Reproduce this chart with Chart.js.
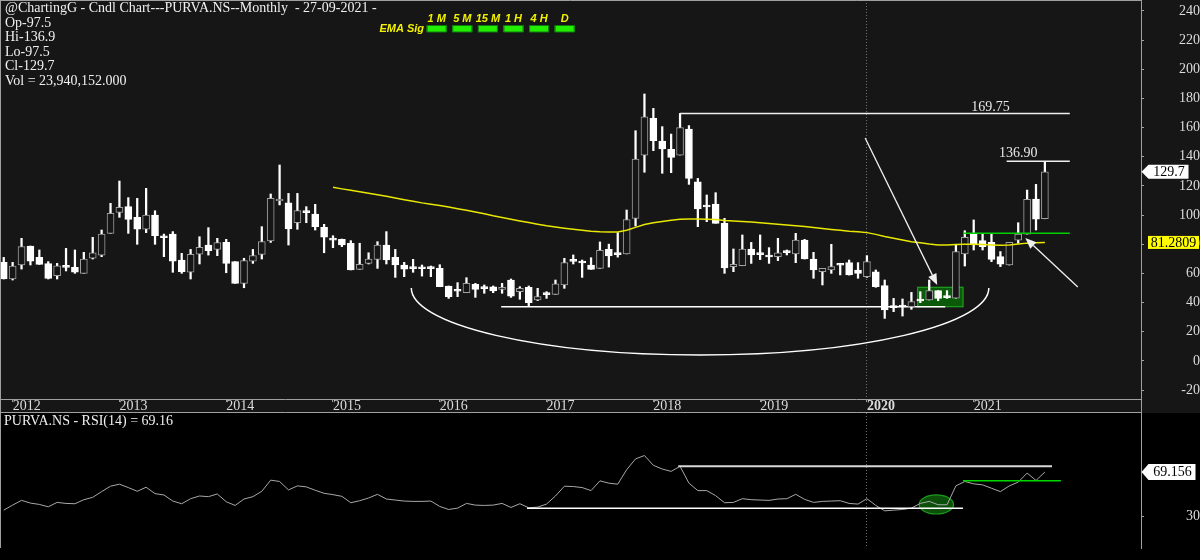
<!DOCTYPE html>
<html>
<head>
<meta charset="utf-8">
<title>PURVA.NS Monthly</title>
<script src="https://cdn.jsdelivr.net/npm/chart.js@4.4.0/dist/chart.umd.min.js"></script>
<style>
  html, body { margin: 0; padding: 0; background: #000; }
  canvas { display: block; }
</style>
</head>
<body>
<canvas id="priceChart" width="1200" height="413"></canvas>
<canvas id="rsiChart" width="1200" height="147"></canvas>
<script>
// monthly candles, first one is Dec 2011, last one Sep 2021
const opens = [67.6,56.2,65.8,78.8,71.0,66.7,58.5,65.1,64.2,60.1,
  70.4,72.6,87.5,101.9,105.8,98.5,90.3,100.1,85.2,87.0,
  69.2,60.8,73.3,79.5,76.5,81.3,68.1,53.2,68.5,73.1,
  82.3,109.7,108.5,94.8,102.4,100.8,91.6,83.6,83.4,80.7,
  62.8,66.9,69.7,79.5,71.0,65.8,63.8,63.5,63.5,63.5,
  51.4,48.2,46.8,52.5,50.0,50.9,49.1,55.5,47.5,50.5,
  41.8,45.9,45.7,52.1,68.7,67.6,65.8,63.5,76.5,73.3,
  73.4,97.8,141.2,166.4,150.8,145.1,141.2,159.1,122.9,106.0,
  107.6,94.4,64.7,65.3,76.8,73.3,71.5,71.5,74.7,73.4,
  82.9,69.9,61.2,62.4,66.0,67.5,62.4,57.8,61.2,51.6,
  37.0,37.4,37.2,41.5,41.8,48.2,43.8,43.0,73.4,87.0,
  82.5,81.3,71.5,65.8,82.9,87.0,111.0,97.5];
const highs = [71.0,67.6,84.1,78.8,76.1,68.1,66.9,77.2,76.1,74.5,
  84.8,89.8,108.1,123.4,112.0,111.5,118.4,103.0,87.0,88.7,
  73.8,76.5,85.2,91.4,84.1,83.4,68.1,70.4,76.5,92.1,
  114.5,134.4,114.9,114.9,105.8,107.4,93.7,85.9,83.6,82.5,
  80.7,74.2,81.8,88.7,76.5,67.6,69.7,65.8,65.1,66.0,
  51.4,53.7,57.1,53.2,52.1,51.4,53.2,56.2,50.9,51.4,
  49.8,47.5,55.5,70.4,72.7,69.2,70.8,81.6,80.1,88.0,
  103.5,157.9,183.1,173.2,160.7,155.6,169.75,161.4,125.2,113.8,
  115.4,97.8,76.8,86.4,81.3,86.4,77.7,84.1,76.1,87.5,
  83.4,74.5,63.5,80.0,67.0,69.2,67.4,72.2,62.4,55.5,
  42.9,42.5,47.0,47.5,55.5,48.2,48.2,79.5,89.3,96.7,
  87.5,87.0,75.0,81.3,94.8,117.2,121.1,136.9];
const lows = [56.2,55.5,63.0,65.8,66.2,56.2,56.2,61.7,60.1,60.1,
  69.9,71.5,87.5,98.5,87.5,80.0,88.0,80.0,71.5,60.8,
  60.1,56.2,66.5,72.6,72.2,60.5,53.2,50.2,66.9,69.9,
  81.3,107.0,79.5,90.3,94.8,89.8,74.2,77.7,78.4,62.4,
  62.8,66.5,63.5,66.5,57.3,57.8,60.8,58.2,57.8,50.9,
  42.9,44.1,46.8,43.6,46.4,46.8,46.4,43.6,42.3,37.7,
  41.4,42.9,45.7,49.8,66.5,57.3,62.8,63.5,64.4,71.2,
  73.4,92.5,129.4,144.2,128.7,129.1,141.2,121.1,92.1,95.5,
  94.4,60.1,61.2,65.3,66.9,69.5,66.9,68.8,72.7,67.4,
  69.9,56.7,52.1,60.1,59.0,58.9,56.7,57.3,50.5,29.2,
  33.8,30.8,35.4,40.0,41.8,41.3,42.9,43.0,65.1,76.1,
  76.1,68.1,64.7,65.8,80.7,87.0,89.8,97.5];
const closes = [56.2,65.1,78.4,68.5,66.2,56.6,65.3,64.2,60.8,69.9,
  74.2,87.0,101.2,105.3,97.1,90.3,100.1,85.9,84.5,68.5,
  61.2,73.1,77.9,75.6,81.1,66.9,53.2,68.8,72.2,81.8,
  111.5,110.6,90.5,103.1,101.7,92.1,84.8,82.9,79.5,62.4,
  66.2,69.9,79.5,69.2,65.8,63.0,63.3,63.2,63.3,50.9,
  44.1,47.8,53.2,49.1,49.6,48.0,50.5,44.5,49.8,40.0,
  44.1,45.5,52.8,67.4,68.3,67.2,62.8,75.9,72.1,72.9,
  97.0,138.5,167.5,151.1,145.4,139.6,160.0,125.2,104.2,105.6,
  94.4,63.8,66.3,76.8,72.7,72.9,71.3,74.2,74.3,82.9,
  69.9,62.4,63.5,64.7,65.6,59.0,60.1,68.1,50.9,35.0,
  36.6,37.0,40.7,41.1,48.2,42.9,43.4,75.0,84.8,79.5,
  78.4,69.7,66.3,81.3,87.0,110.8,97.3,129.7];

// yellow EMA, starts at candle 37 (Jan 2015)
const emaStart = 37;
const emaValues = [119.1,118.0,117.0,116.0,115.0,114.0,113.0,111.8,110.6,109.5,
  108.4,107.5,106.6,105.5,104.4,103.3,102.2,101.0,99.6,98.4,
  97.2,96.0,94.9,93.8,92.7,91.8,91.0,90.3,89.6,89.0,
  88.6,88.4,88.5,89.6,91.6,93.6,94.8,95.6,96.5,97.2,
  97.4,97.3,97.2,97.0,96.4,96.0,95.6,95.3,94.8,94.2,
  93.7,93.2,92.8,92.2,91.5,90.8,90.2,89.6,89.0,88.6,
  88.0,86.8,85.4,84.2,83.0,81.8,81.0,80.2,79.6,79.5,
  79.8,80.0,80.0,79.8,79.6,79.4,79.6,80.2,80.8,81.0,
  81.28];

const rsiValues = [35.2,39.7,43.9,41.5,40.3,38.2,42.1,41.2,40.9,44.5,
  46.6,51.7,56.5,58.3,55.3,52.0,55.6,49.9,48.7,43.3,
  40.9,45.4,47.8,47.2,49.6,42.7,39.4,45.1,47.2,52.0,
  61.9,60.7,53.2,56.8,55.9,52.9,50.2,49.0,47.5,41.8,
  43.6,46.0,49.3,45.1,44.2,43.3,43.0,43.0,43.3,38.5,
  35.8,37.0,41.2,39.7,39.4,39.7,41.2,37.6,40.9,37.3,
  37.9,40.6,47.8,56.5,56.2,55.3,52.6,61.3,59.2,58.3,
  71.2,80.8,83.8,75.1,71.8,69.7,74.2,59.2,52.6,52.6,
  48.1,41.8,42.1,45.4,44.5,44.2,43.9,45.1,45.4,49.3,
  44.8,42.1,43.0,43.3,43.6,41.2,40.6,45.4,39.4,34.6,
  35.2,35.8,37.0,41.2,43.0,40.0,40.0,56.8,60.7,58.6,
  57.7,54.7,51.7,56.8,60.1,68.2,61.6,69.16];

const yearLabels = ['2012','2013','2014','2015','2016','2017','2018','2019','2020','2021'];
const yearTickIdx = yearLabels.map((y, i) => 1 + 12 * i);   // January candle of each year
const priceTicks = [-20,0,20,40,60,80,100,120,140,160,180,200,220,240];
const sigLabels = ['1 M','5 M','15 M','1 H','4 H','D'];

const serif = '"Liberation Serif", "Times New Roman", serif';
const sans = '"Liberation Sans", Arial, sans-serif';
const fontPx = 14;
const xMin = -0.42, xMax = 127.8;
const last = closes.length - 1;

// right axis labels are right aligned, work out the padding for that
const mctx = document.createElement('canvas').getContext('2d');
mctx.font = fontPx + 'px ' + serif;
const priceWidest = Math.max(...priceTicks.map(t => mctx.measureText(String(t)).width));
const rsiWidest = mctx.measureText('30').width;

function isUp(i) {
  return closes[i] > opens[i];
}

// keep the axis width fixed and stop the label padding from shrinking the plot
function fixAxis(s) {
  s.width = 59;
  s.paddingTop = 0;
  s.paddingBottom = 0;
}

function line(ctx, x1, y1, x2, y2) {
  ctx.beginPath();
  ctx.moveTo(x1, y1);
  ctx.lineTo(x2, y2);
  ctx.stroke();
}

function arrow(ctx, x1, y1, x2, y2) {
  const a = Math.atan2(y2 - y1, x2 - x1);
  const len = 11, half = 4.5;
  const bx = x2 - len * Math.cos(a), by = y2 - len * Math.sin(a);
  line(ctx, x1, y1, bx, by);
  ctx.beginPath();
  ctx.moveTo(x2, y2);
  ctx.lineTo(bx + half * Math.sin(a), by - half * Math.cos(a));
  ctx.lineTo(bx - half * Math.sin(a), by + half * Math.cos(a));
  ctx.closePath();
  ctx.fill();
}

function tag(ctx, xTip, y, w, h, text, bg) {
  ctx.beginPath();
  ctx.moveTo(xTip, y);
  ctx.lineTo(xTip + 7, y - h / 2);
  ctx.lineTo(xTip + w, y - h / 2);
  ctx.lineTo(xTip + w, y + h / 2);
  ctx.lineTo(xTip + 7, y + h / 2);
  ctx.closePath();
  ctx.fillStyle = bg;
  ctx.fill();
  ctx.fillStyle = '#000';
  ctx.font = fontPx + 'px ' + serif;
  ctx.textAlign = 'center';
  ctx.textBaseline = 'middle';
  ctx.fillText(text, xTip + 4 + w / 2, y + 0.5);
}

const pricePlugin = {
  id: 'priceDecor',
  beforeDraw(chart) {
    const ctx = chart.ctx;
    ctx.save();
    ctx.fillStyle = '#161616';
    ctx.fillRect(0, 0, chart.width, chart.height);
    ctx.restore();
  },
  beforeDatasetsDraw(chart) {
    const ctx = chart.ctx, area = chart.chartArea;
    const X = v => chart.scales.x.getPixelForValue(v);
    const Y = v => chart.scales.y.getPixelForValue(v);
    ctx.save();
    // dotted marker at 2020
    ctx.strokeStyle = '#707070';
    ctx.lineWidth = 1;
    ctx.setLineDash([1, 2]);
    const xd = Math.round(X(96.9)) + 0.5;
    line(ctx, xd, area.top, xd, area.bottom);
    ctx.setLineDash([]);
    // green base box
    const bx1 = X(102.7), bx2 = X(107.8), by1 = Y(50.5), by2 = Y(37.2);
    ctx.fillStyle = '#0a5a0a';
    ctx.fillRect(bx1, by1, bx2 - bx1, by2 - by1);
    ctx.strokeStyle = '#1f9f1f';
    ctx.lineWidth = 1.2;
    ctx.strokeRect(bx1, by1, bx2 - bx1, by2 - by1);
    // support line and rounding bottom
    ctx.strokeStyle = '#ffffff';
    ctx.lineWidth = 1.5;
    line(ctx, X(55.9), Y(37.2), X(105.8), Y(37.2));
    const ax1 = X(45.8), ax2 = X(110.7), ay = Y(50), ab = Y(4.1);
    ctx.beginPath();
    ctx.ellipse((ax1 + ax2) / 2, ay, (ax2 - ax1) / 2, ab - ay, 0, 0, Math.PI);
    ctx.stroke();
    ctx.restore();
  },
  afterDatasetsDraw(chart) {
    const ctx = chart.ctx;
    const X = v => chart.scales.x.getPixelForValue(v);
    const Y = v => chart.scales.y.getPixelForValue(v);
    ctx.save();
    ctx.strokeStyle = '#f0f0f0';
    ctx.lineWidth = 1.5;
    line(ctx, X(76.0), Y(169.75), X(119.8), Y(169.75));
    line(ctx, X(112.7), Y(136.9), X(119.8), Y(136.9));
    ctx.strokeStyle = '#00d000';
    line(ctx, X(107.8), Y(87.5), X(119.8), Y(87.5));
    ctx.fillStyle = '#e8e8e8';
    ctx.font = fontPx + 'px ' + serif;
    ctx.textAlign = 'center';
    ctx.textBaseline = 'alphabetic';
    ctx.fillText('169.75', X(110.9), Y(169.75) - 2);
    ctx.fillText('136.90', X(114.0), Y(136.9) - 4.5);
    ctx.strokeStyle = '#f0f0f0';
    ctx.fillStyle = '#f0f0f0';
    ctx.lineWidth = 1.3;
    arrow(ctx, X(96.8), Y(152.9), X(104.9), Y(52.1));
    arrow(ctx, X(120.7), Y(50.7), X(114.8), Y(84.3));
    ctx.restore();
  },
  afterDraw(chart) {
    const ctx = chart.ctx;
    const yAxis = chart.scales.y;
    const axisX = Math.round(yAxis.left) + 0.5;
    ctx.save();
    ctx.strokeStyle = '#a0a0a0';
    ctx.lineWidth = 1;
    line(ctx, 0, 0.5, axisX, 0.5);
    line(ctx, 0.5, 0, 0.5, 413);
    line(ctx, 0, 412.5, axisX, 412.5);
    line(ctx, axisX, chart.chartArea.bottom, axisX, 413);

    // header
    ctx.fillStyle = '#f0f0f0';
    ctx.font = fontPx + 'px ' + serif;
    ctx.textAlign = 'left';
    ctx.textBaseline = 'middle';
    ctx.fillText('@ChartingG - Cndl Chart---PURVA.NS--Monthly  - 27-09-2021 -', 5, 8.5);
    ctx.fillText('Op-' + opens[last], 5, 23.3);
    ctx.fillText('Hi-' + highs[last], 5, 37.8);
    ctx.fillText('Lo-' + lows[last], 5, 52.3);
    ctx.fillText('Cl-' + closes[last], 5, 66.8);
    ctx.fillText('Vol = 23,940,152.000', 5, 81.3);

    // EMA signal strip
    ctx.font = 'italic bold 11px ' + sans;
    ctx.fillStyle = '#f2f200';
    ctx.textAlign = 'right';
    ctx.fillText('EMA Sig', 424, 28.5);
    ctx.textAlign = 'center';
    sigLabels.forEach((s, i) => {
      const cx = 436.7 + i * 25.6;
      ctx.fillStyle = '#f2f200';
      ctx.fillText(s, cx, 19);
      ctx.fillStyle = '#22ee00';
      ctx.fillRect(cx - 10, 25.5, 20, 6.5);
      ctx.strokeStyle = '#0f7a0f';
      ctx.strokeRect(cx - 10 + 0.5, 25.5, 19, 6.5);
    });

    // value tags on the price axis
    tag(ctx, axisX, yAxis.getPixelForValue(closes[last]), 47, 14, String(closes[last]), '#ffffff');
    const ye = yAxis.getPixelForValue(emaValues[emaValues.length - 1]);
    ctx.fillStyle = '#ffff00';
    ctx.fillRect(1148, ye - 6.5, 51, 13);
    ctx.fillStyle = '#000';
    ctx.font = fontPx + 'px ' + serif;
    ctx.textAlign = 'center';
    ctx.fillText('81.2809', 1173.5, ye + 0.5);
    ctx.restore();
  }
};

const rsiPlugin = {
  id: 'rsiDecor',
  beforeDraw(chart) {
    chart.ctx.save();
    chart.ctx.fillStyle = '#000';
    chart.ctx.fillRect(0, 0, chart.width, chart.height);
    chart.ctx.restore();
  },
  beforeDatasetsDraw(chart) {
    const ctx = chart.ctx, area = chart.chartArea;
    const X = v => chart.scales.x.getPixelForValue(v);
    const Y = v => chart.scales.y.getPixelForValue(v);
    ctx.save();
    ctx.strokeStyle = '#707070';
    ctx.lineWidth = 1;
    ctx.setLineDash([1, 2]);
    const xd = Math.round(X(96.9)) + 0.5;
    line(ctx, xd, area.top, xd, area.bottom);
    ctx.setLineDash([]);
    const cx = X(104.8), cy = Y(40.3);
    ctx.beginPath();
    ctx.ellipse(cx, cy, X(106.73) - cx, cy - Y(48.8), 0, 0, Math.PI * 2);
    ctx.fillStyle = '#0b4f0b';
    ctx.fill();
    ctx.strokeStyle = '#1e9a1e';
    ctx.lineWidth = 1.2;
    ctx.stroke();
    ctx.restore();
  },
  afterDatasetsDraw(chart) {
    const ctx = chart.ctx;
    const X = v => chart.scales.x.getPixelForValue(v);
    const Y = v => chart.scales.y.getPixelForValue(v);
    ctx.save();
    ctx.strokeStyle = '#ffffff';
    ctx.lineWidth = 1.5;
    line(ctx, X(58.8), Y(37.0), X(107.8), Y(37.0));
    ctx.strokeStyle = '#d8d8d8';
    ctx.lineWidth = 2;
    line(ctx, X(75.8), Y(74.2), X(117.8), Y(74.2));
    ctx.strokeStyle = '#00d800';
    ctx.lineWidth = 1.5;
    line(ctx, X(107.8), Y(61.3), X(118.8), Y(61.3));
    ctx.restore();
  },
  afterDraw(chart) {
    const ctx = chart.ctx;
    const yAxis = chart.scales.y;
    const axisX = Math.round(yAxis.left) + 0.5;
    ctx.save();
    ctx.strokeStyle = '#a0a0a0';
    ctx.lineWidth = 1;
    line(ctx, 0.5, 0, 0.5, chart.chartArea.bottom);
    ctx.fillStyle = '#f0f0f0';
    ctx.font = fontPx + 'px ' + serif;
    ctx.textAlign = 'left';
    ctx.textBaseline = 'middle';
    ctx.fillText('PURVA.NS - RSI(14) = ' + rsiValues[last].toFixed(2), 4, 8.7);
    tag(ctx, axisX, yAxis.getPixelForValue(69.156), 54, 16, '69.156', '#ffffff');
    ctx.restore();
  }
};

const bodyData = opens.map((o, i) => ({ x: i, y: [Math.min(o, closes[i]), Math.max(o, closes[i])] }));
const wickData = opens.map((o, i) => ({ x: i, y: [lows[i], highs[i]] }));
const emaData = emaValues.map((v, i) => ({ x: emaStart + i, y: v }));
const rsiData = rsiValues.map((v, i) => ({ x: i, y: v }));

new Chart(document.getElementById('priceChart'), {
  type: 'bar',
  data: {
    datasets: [
      { type: 'line', data: emaData, borderColor: '#e8e800', borderWidth: 1.5, pointRadius: 0, order: 0 },
      {
        data: bodyData, barThickness: 7, minBarLength: 2, grouped: false, borderSkipped: false, borderWidth: 1,
        backgroundColor: c => isUp(c.dataIndex) ? '#161616' : '#ffffff',
        borderColor: c => isUp(c.dataIndex) ? '#a0a0a0' : '#ffffff',
        order: 1
      },
      { data: wickData, barThickness: 1.6, grouped: false, borderSkipped: false, borderWidth: 0, backgroundColor: '#ffffff', order: 2 }
    ]
  },
  options: {
    responsive: false,
    animation: false,
    devicePixelRatio: 1,
    layout: { padding: 0, autoPadding: false },
    plugins: { legend: { display: false }, tooltip: { enabled: false } },
    scales: {
      x: {
        type: 'linear', min: xMin, max: xMax, offset: false, position: 'bottom',
        grid: { display: true, drawOnChartArea: false, drawTicks: true, tickLength: 3, color: '#a0a0a0', offset: false },
        border: { display: true, color: '#a0a0a0' },
        afterBuildTicks: s => { s.ticks = yearTickIdx.map(v => ({ value: v })); },
        afterFit: s => { s.height = 14; s.paddingLeft = 0; s.paddingRight = 0; },
        ticks: {
          autoSkip: false, maxRotation: 0, align: 'start', padding: -4, color: '#dcdcdc',
          font: c => ({ family: serif, size: fontPx, weight: (c.tick && c.tick.value === 97) ? 'bold' : 'normal' }),
          callback: (v, i) => yearLabels[i]
        }
      },
      y: {
        type: 'linear', position: 'right', min: -26.1, max: 247.54,
        grid: { drawOnChartArea: false, tickLength: 3, color: '#a0a0a0' },
        border: { color: '#a0a0a0' },
        afterBuildTicks: s => { s.ticks = priceTicks.map(v => ({ value: v })); },
        afterFit: fixAxis,
        ticks: { crossAlign: 'far', padding: 54 - priceWidest, color: '#dcdcdc', font: { family: serif, size: fontPx } }
      }
    }
  },
  plugins: [pricePlugin]
});

new Chart(document.getElementById('rsiChart'), {
  type: 'line',
  data: {
    datasets: [{ data: rsiData, borderColor: '#a8a8a8', borderWidth: 1, pointRadius: 0 }]
  },
  options: {
    responsive: false,
    animation: false,
    devicePixelRatio: 1,
    layout: { padding: { top: 0, left: 0, right: 0, bottom: 12 }, autoPadding: false },
    plugins: { legend: { display: false }, tooltip: { enabled: false } },
    scales: {
      x: { type: 'linear', min: xMin, max: xMax, display: false },
      y: {
        type: 'linear', position: 'right', min: 1.53, max: 121.64,
        grid: { drawOnChartArea: false, tickLength: 3, color: '#a0a0a0' },
        border: { color: '#a0a0a0' },
        afterBuildTicks: s => { s.ticks = [{ value: 30 }]; },
        afterFit: fixAxis,
        ticks: { crossAlign: 'far', padding: 53 - rsiWidest, color: '#dcdcdc', font: { family: serif, size: fontPx } }
      }
    }
  },
  plugins: [rsiPlugin]
});
</script>
</body>
</html>
